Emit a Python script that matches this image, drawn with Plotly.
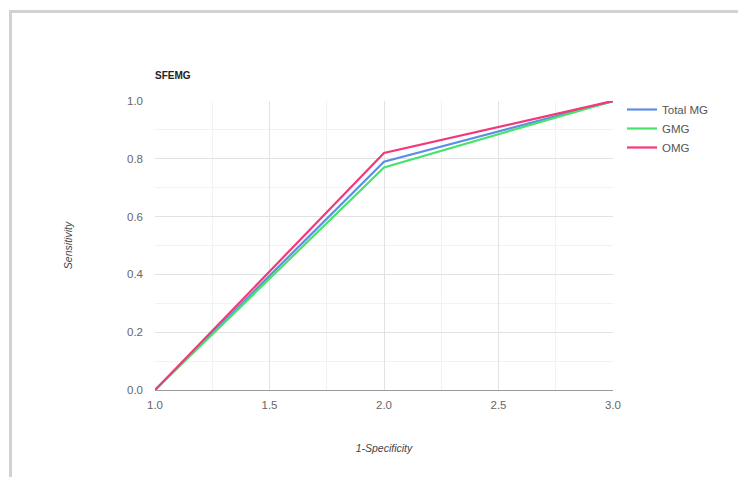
import plotly.graph_objects as go

x_vals = [1.0, 2.0, 3.0]
total_mg = [0.0, 0.79, 1.0]
gmg = [0.0, 0.77, 1.0]
omg = [0.0, 0.82, 1.0]
series_names = ["Total MG", "GMG", "OMG"]
colors = ["#5b8ee6", "#47e36a", "#f2387a"]

fig = go.Figure()
for name, vals, c in zip(series_names, [total_mg, gmg, omg], colors):
    fig.add_trace(go.Scatter(x=x_vals, y=vals, mode="lines", name=name,
                             line=dict(color=c, width=2.2)))

OFF = 8  # page body margin
W, H = 746 - OFF, 477 - OFF
L, R, T, B = 155 - OFF, 613 - OFF, 101 - OFF, 390 - OFF
pw, ph = R - L, B - T

def px(x):
    return (x - OFF - L) / pw

def py(y):
    return (B - (y - OFF)) / ph

# outer light strip and frame border
fig.add_shape(type="rect", xref="paper", yref="paper",
              x0=px(0), x1=px(800), y0=py(0), y1=py(4.5),
              fillcolor="#efefef", line=dict(width=0), layer="below")
fig.add_shape(type="rect", xref="paper", yref="paper",
              x0=px(10.5), x1=px(800), y0=py(11.5), y1=py(520),
              fillcolor="white", line=dict(color="#d2d2d2", width=3), layer="below")

fig.update_layout(
    width=W, height=H,
    margin=dict(l=L, r=W - R, t=T, b=H - B),
    paper_bgcolor="white", plot_bgcolor="rgba(0,0,0,0)",
    font=dict(family="Liberation Sans, Arial, sans-serif", size=11, color="#444"),
    title=dict(text="<b>SFEMG</b>", xref="paper", x=0, xanchor="left",
               yref="container", y=1 - (75 - OFF) / H, yanchor="middle",
               font=dict(size=10, color="#222")),
    showlegend=True,
    legend=dict(x=px(622), y=py(95), xanchor="left", yanchor="top",
                font=dict(size=11.5, color="#555"), bgcolor="rgba(0,0,0,0)",
                tracegroupgap=2, itemwidth=30),
    xaxis=dict(range=[1, 3], dtick=0.5, tickformat=".1f", showgrid=True,
               gridcolor="#e2e2e2", zeroline=False, showline=True, linecolor="#999",
               linewidth=1, ticks="", tickfont=dict(size=11.5, color="#666"),
               ticklabelstandoff=4,
               minor=dict(dtick=0.25, showgrid=True, gridcolor="#f2f2f2"),
               title=dict(text="<i>1-Specificity</i>", font=dict(size=10.5, color="#444"), standoff=34)),
    yaxis=dict(range=[0, 1], dtick=0.2, tickformat=".1f", showgrid=True,
               gridcolor="#e2e2e2", zeroline=False, showline=False, ticks="",
               tickfont=dict(size=11.5, color="#666"), ticklabelstandoff=11,
               minor=dict(dtick=0.1, showgrid=True, gridcolor="#f2f2f2"),
               title=dict(text="<i>Sensitivity</i>", font=dict(size=10.5, color="#444"), standoff=52)),
)

fig.write_html("out.html")
